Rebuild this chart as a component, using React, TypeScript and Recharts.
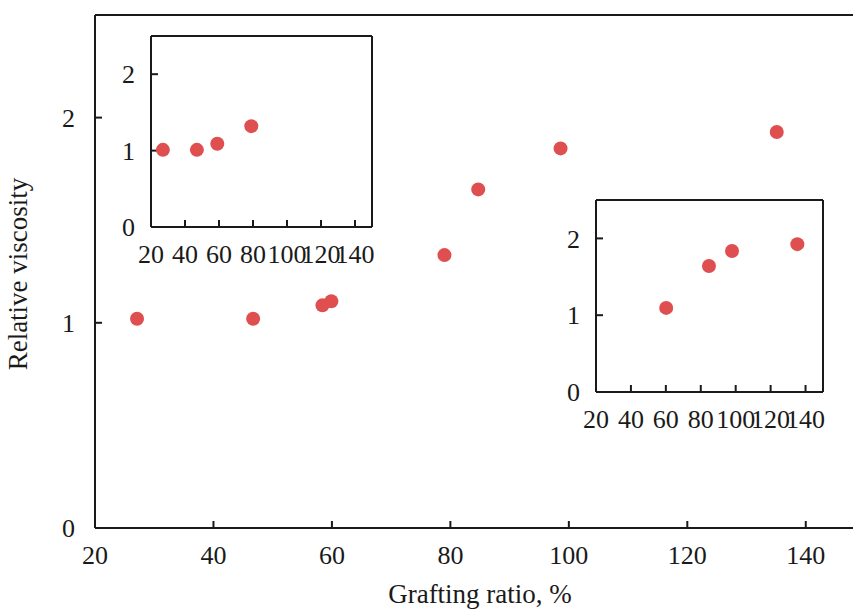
import { ReferenceLine, Scatter, ScatterChart, XAxis, YAxis } from 'recharts'

// main plot: relative viscosity vs grafting ratio
const mainRatio = [27.1, 46.7, 58.4, 59.9, 79.0, 84.7, 98.6, 135.1]
const mainViscosity = [1.02, 1.02, 1.085, 1.105, 1.33, 1.65, 1.85, 1.93]

// upper-left inset
const insetARatio = [27, 47, 59, 79]
const insetAViscosity = [1.01, 1.01, 1.09, 1.32]

// lower-right inset
const insetBRatio = [60.2, 84.7, 97.9, 135.3]
const insetBViscosity = [1.095, 1.64, 1.835, 1.925]

const xTicks = [20, 40, 60, 80, 100, 120, 140]
const yTicks = [0, 1, 2]
const xMax = 150
const yMax = 2.5

const FONT = '"Liberation Serif", "Times New Roman", serif'
const INK = '#1a1a1a'
const DOT = '#df4f4f'

const toPoints = (xs: number[], ys: number[]) => xs.map((x, i) => ({ x, y: ys[i] }))

const Dot = (props: any) => <circle cx={props.cx} cy={props.cy} r={7} fill={DOT} />

const tickStyle = { fontSize: 26, fill: INK, fontFamily: FONT }
const line = { stroke: INK, strokeWidth: 2 }

const XTitle = () => (
  <text x={480} y={603} textAnchor="middle" fontSize={27} fontFamily={FONT} fill={INK}>
    Grafting ratio, %
  </text>
)

const YTitle = () => (
  <text
    x={27}
    y={274}
    transform="rotate(-90, 27, 274)"
    textAnchor="middle"
    fontSize={27}
    fontFamily={FONT}
    fill={INK}
  >
    Relative viscosity
  </text>
)

// closes the box: top edge and right edge of the plot
function frame() {
  return [
    <ReferenceLine key="top" y={yMax} ifOverflow="visible" {...line} />,
    <ReferenceLine key="right" x={xMax} ifOverflow="visible" {...line} />,
  ]
}

function Inset({
  xs,
  ys,
  width,
  height,
  left,
  top,
}: {
  xs: number[]
  ys: number[]
  width: number
  height: number
  left: number
  top: number
}) {
  return (
    <div style={{ position: 'absolute', left, top }}>
      <ScatterChart width={width} height={height} margin={{ top: 2, right: 2, bottom: 0, left: 0 }}>
        <XAxis
          dataKey="x"
          type="number"
          domain={[20, xMax]}
          ticks={xTicks}
          interval={0}
          height={60}
          tickSize={-7}
          tickMargin={25}
          tick={tickStyle}
          axisLine={line}
          tickLine={line}
        />
        <YAxis
          dataKey="y"
          type="number"
          domain={[0, yMax]}
          ticks={yTicks}
          interval={0}
          width={60}
          tickSize={-7}
          tickMargin={23}
          tick={tickStyle}
          axisLine={line}
          tickLine={line}
        />
        {frame()}
        <Scatter data={toPoints(xs, ys)} shape={Dot} isAnimationActive={false} />
      </ScatterChart>
    </div>
  )
}

export default function App() {
  return (
    <div
      style={{
        position: 'absolute',
        left: 0,
        top: 0,
        width: 853,
        height: 613,
        overflow: 'hidden',
        background: '#fff',
      }}
    >
      <ScatterChart width={870} height={613} margin={{ top: 15, right: 5, bottom: 0, left: 0 }}>
        <XAxis
          dataKey="x"
          type="number"
          domain={[20, xMax]}
          ticks={xTicks}
          interval={0}
          height={85}
          tickSize={-7}
          tickMargin={25}
          tick={tickStyle}
          axisLine={line}
          tickLine={line}
          label={<XTitle />}
        />
        <YAxis
          dataKey="y"
          type="number"
          domain={[0, yMax]}
          ticks={yTicks}
          interval={0}
          width={95}
          tickSize={-7}
          tickMargin={27}
          tick={tickStyle}
          axisLine={line}
          tickLine={line}
          label={<YTitle />}
        />
        {frame()}
        <Scatter data={toPoints(mainRatio, mainViscosity)} shape={Dot} isAnimationActive={false} />
      </ScatterChart>
      <Inset xs={insetARatio} ys={insetAViscosity} left={91} top={34} width={283} height={253} />
      <Inset xs={insetBRatio} ys={insetBViscosity} left={536} top={198} width={289} height={254} />
    </div>
  )
}
